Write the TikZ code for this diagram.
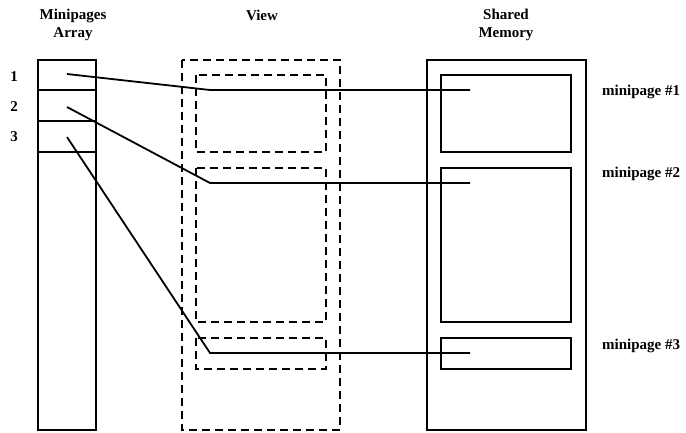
\documentclass[tikz,border=0pt]{standalone}
\usepackage{fontspec}
\setmainfont{Liberation Serif}
\usetikzlibrary{calc,positioning}

\tikzset{
    box/.style={line width=1.8pt},
    viewbox/.style={line width=1.8pt, dash pattern=on 8pt off 5pt},
    link/.style={line width=1.8pt},
    lbl/.style={font=\fontsize{15}{18}\selectfont\bfseries, inner sep=0pt, align=center}
}

\begin{document}
\begin{tikzpicture}[x=1pt,y=-1pt]

    \useasboundingbox (0,0) rectangle (686,432);

    % minipages array
    \coordinate (AT) at (38,60);
    \coordinate (AB) at (96,430);
    \draw[box] (AT) rectangle (AB);
    \foreach \y in {90,121,152}
        \draw[box] (38,\y) -- (96,\y);

    \node[lbl] (num1) at (14,77) {1};
    \node[lbl] (num2) at (14,107) {2};
    \node[lbl] (num3) at (14,137) {3};

    % view
    \draw[viewbox] (182,60) rectangle (340,430);
    \draw[viewbox] (196,75) rectangle (326,152);
    \draw[viewbox] (196,168) rectangle (326,322);
    \draw[viewbox] (196,338) rectangle (326,369);

    % shared memory
    \draw[box] (427,60) rectangle (586,430);
    \draw[box] (441,75) rectangle (571,152);
    \draw[box] (441,168) rectangle (571,322);
    \draw[box] (441,338) rectangle (571,369);

    % headers
    \node[lbl] (hArr) at (73,25) {Minipages\\Array};
    \node[lbl] (hView) at (262,15) {View};
    \node[lbl] (hMem) at (506,25) {Shared\\Memory};

    \node[lbl, anchor=west] (mp1) at (602,92) {minipage \#1};
    \node[lbl, anchor=west] (mp2) at (602,174) {minipage \#2};
    \node[lbl, anchor=west] (mp3) at (602,346) {minipage \#3};

    % links
    \coordinate (C1) at (67,74);
    \coordinate (C2) at (67,107);
    \coordinate (C3) at (67,137);
    \coordinate (V1) at (210,90);
    \coordinate (V2) at (210,183);
    \coordinate (V3) at (210,353);
    \coordinate (M1) at (470,90);
    \coordinate (M2) at (470,183);
    \coordinate (M3) at (470,353);

    \draw[link] (C1) -- (V1) -- (M1);
    \draw[link] (C2) -- (V2) -- (M2);
    \draw[link] (C3) -- (V3) -- (M3);

\end{tikzpicture}
\end{document}
